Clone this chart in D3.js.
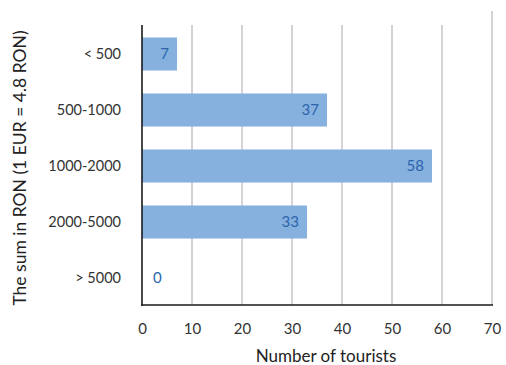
<!DOCTYPE html>
<html>
<head>
<meta charset="utf-8">
<script src="https://cdn.jsdelivr.net/npm/d3@7"></script>
<style>
  html, body { margin: 0; padding: 0; background: #fff; }
  svg { display: block; }
  text { font-family: Lato, "Noto Sans", sans-serif; }
</style>
</head>
<body>
<svg id="chart" width="506" height="365"></svg>
<script>
// Spending ranges (RON) and how many tourists fall into each
const categories = ["< 500", "500-1000", "1000-2000", "2000-5000", "> 5000"];
const tourists = [7, 37, 58, 33, 0];
const xTicks = [0, 10, 20, 30, 40, 50, 60, 70];

const svg = d3.select("#chart");
const plotLeft = 142, plotRight = 492, plotTop = 26, plotBottom = 305;

const x = d3.scaleLinear().domain([0, 70]).range([plotLeft, plotRight]);
const y = d3.scaleBand().domain(categories).range([plotTop, plotBottom + 1])
  .paddingInner(0.41).paddingOuter(0.205);

// vertical gridlines
svg.append("g").selectAll("line").data(xTicks.slice(1)).join("line")
  .attr("x1", d => x(d)).attr("x2", d => x(d))
  .attr("y1", d => d === 70 ? 11 : plotTop - 1).attr("y2", plotBottom)
  .attr("stroke", "#c4c4c4").attr("stroke-width", 1.5);

// bars
svg.append("g").selectAll("rect").data(categories).join("rect")
  .attr("x", x(0))
  .attr("y", (d) => y(d))
  .attr("width", (d, i) => x(tourists[i]) - x(0))
  .attr("height", y.bandwidth())
  .attr("fill", "#86b0de");

// value labels
svg.append("g").selectAll("text").data(categories).join("text")
  .attr("x", (d, i) => tourists[i] === 0 ? x(0) + 11 : x(tourists[i]) - 8)
  .attr("y", d => y(d) + y.bandwidth() / 2)
  .attr("dy", "0.36em")
  .attr("text-anchor", (d, i) => tourists[i] === 0 ? "start" : "end")
  .attr("font-size", 15)
  .attr("fill", "#2b66ad")
  .text((d, i) => tourists[i]);

// axes lines
svg.append("line").attr("x1", plotLeft).attr("x2", plotLeft).attr("y1", plotTop - 1).attr("y2", plotBottom + 1)
  .attr("stroke", "#1a1a1a").attr("stroke-width", 1.6);
svg.append("line").attr("x1", plotLeft - 0.8).attr("x2", plotRight + 1).attr("y1", plotBottom).attr("y2", plotBottom)
  .attr("stroke", "#1a1a1a").attr("stroke-width", 1.6);

// x tick labels
const xAxis = d3.axisBottom(x).tickValues(xTicks).tickSize(0).tickPadding(0);
const gx = svg.append("g").attr("transform", `translate(0,${plotBottom + 18})`).call(xAxis);
gx.select(".domain").remove();
gx.selectAll("text").attr("font-size", 15).attr("fill", "#333")
  .style("font-family", "Lato, 'Noto Sans', sans-serif");

// category labels
const yAxis = d3.axisLeft(y).tickSize(0).tickPadding(0);
const gy = svg.append("g").attr("transform", `translate(${plotLeft - 21},0)`).call(yAxis);
gy.select(".domain").remove();
gy.selectAll("text").attr("font-size", 14.5).attr("fill", "#333")
  .style("font-family", "Lato, 'Noto Sans', sans-serif");

// axis titles
svg.append("text").attr("x", 326).attr("y", 362)
  .attr("text-anchor", "middle").attr("font-size", 17).attr("fill", "#222")
  .text("Number of tourists");

svg.append("text")
  .attr("transform", "translate(26,168) rotate(-90)")
  .attr("text-anchor", "middle").attr("font-size", 17.5).attr("fill", "#222")
  .text("The sum in RON (1 EUR = 4.8 RON)");
</script>
</body>
</html>
